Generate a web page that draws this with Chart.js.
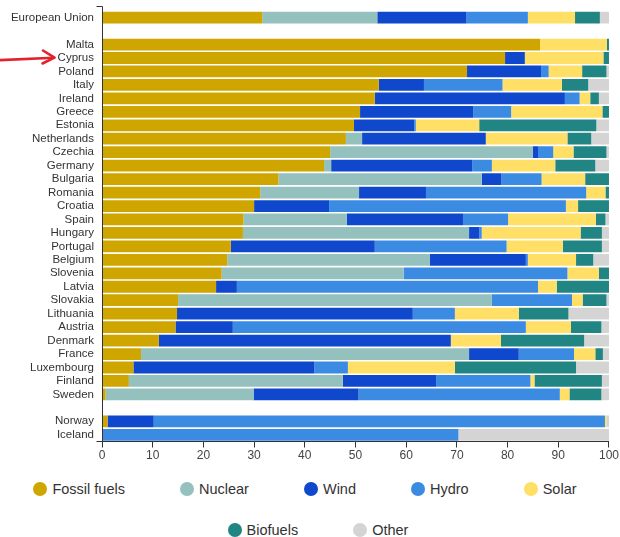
<!DOCTYPE html>
<html>
<head>
<meta charset="utf-8">
<script src="https://cdn.jsdelivr.net/npm/chart.js@4"></script>
<style>
  html, body { margin: 0; padding: 0; background: #fff; }
  #wrap { position: relative; width: 620px; height: 537px; overflow: hidden; font-family: 'Liberation Sans', Arial, sans-serif; }
  #chartBox { position: absolute; left: 0; top: -4px; width: 620px; height: 474px; }
  .legRow { position: absolute; left: 0; width: 620px; display: flex; justify-content: center; gap: 55px; }
  .legItem { display: flex; align-items: center; font-size: 14.5px; color: #333; height: 16px; line-height: 16px; white-space: nowrap; }
  .legDot { width: 14px; height: 14px; border-radius: 50%; margin-right: 5px; flex: none; }
</style>
</head>
<body>
<div id="wrap">
  <div id="chartBox"><canvas id="c"></canvas></div>
  <div class="legRow" id="leg1" style="top:481px; transform: translateX(-5px);"></div>
  <div class="legRow" id="leg2" style="top:522px; transform: translateX(8px);"></div>
</div>
<script>
// ---- Data ----
const categories = ["European Union", "", "Malta", "Cyprus", "Poland", "Italy", "Ireland", "Greece", "Estonia",
  "Netherlands", "Czechia", "Germany", "Bulgaria", "Romania", "Croatia", "Spain", "Hungary", "Portugal",
  "Belgium", "Slovenia", "Latvia", "Slovakia", "Lithuania", "Austria", "Denmark", "France", "Luxembourg",
  "Finland", "Sweden", " ", "Norway", "Iceland"];

const seriesNames = ["Fossil fuels", "Nuclear", "Wind", "Hydro", "Solar", "Biofuels", "Other"];
const seriesColors = ["#CFA500", "#94C1BE", "#0F47CD", "#3B8BE3", "#FFDF65", "#218583", "#D4D4D4"];

const fossil   = [31.6, null, 86.4, 79.5, 72.0, 54.6, 53.8, 50.9, 49.7, 48.1, 45.0, 43.8, 34.8, 31.2, 30.0, 27.9, 27.8, 25.4, 24.7, 23.6, 22.5, 15.0, 14.8, 14.5, 11.2, 7.7, 6.2, 5.3, 0.7, null, 1.1, 0];
const nuclear  = [22.7, null, 0, 0, 0, 0, 0, 0, 0, 3.2, 40.0, 1.4, 40.1, 19.5, 0, 20.4, 44.6, 0, 40.0, 35.9, 0, 61.9, 0, 0, 0, 64.7, 0, 42.2, 29.2, null, 0, 0];
const wind     = [17.6, null, 0, 3.9, 14.6, 8.9, 37.5, 22.3, 11.9, 24.4, 1.0, 27.8, 3.9, 13.2, 14.8, 22.9, 2.0, 28.4, 18.9, 0, 4.1, 0, 46.5, 11.3, 57.6, 9.8, 35.7, 18.4, 20.7, null, 9.1, 0];
const hydro    = [12.1, null, 0, 0, 1.5, 15.5, 2.9, 7.5, 0.3, 0, 3.0, 3.9, 7.9, 31.6, 46.7, 8.9, 0.5, 26.0, 0.4, 32.3, 59.4, 15.8, 8.3, 57.8, 0, 10.9, 6.6, 18.6, 39.7, null, 89.0, 70.3];
const solar    = [9.3, null, 13.2, 15.5, 6.6, 11.7, 2.1, 18.0, 12.5, 16.1, 4.0, 12.5, 8.6, 3.8, 2.4, 17.3, 19.5, 11.1, 9.5, 6.2, 3.7, 2.1, 12.6, 8.9, 9.9, 4.2, 21.1, 0.8, 1.9, null, 0.3, 0];
const biofuels = [4.9, null, 0.4, 1.1, 4.8, 5.2, 1.7, 1.3, 23.1, 4.7, 6.5, 7.9, 4.7, 0.7, 6.1, 1.9, 4.2, 7.7, 3.4, 2.0, 10.3, 4.7, 9.8, 6.0, 16.4, 1.5, 23.9, 13.3, 6.3, null, 0, 0];
const other    = [1.8, null, 0, 0, 0.5, 4.1, 2.0, 0, 2.5, 3.5, 0.5, 2.7, 0, 0, 0, 0.7, 1.4, 1.4, 3.1, 0, 0, 0.5, 8.0, 1.5, 4.9, 1.2, 6.5, 1.4, 1.5, null, 0.5, 29.7];

const xTicks = [0, 10, 20, 30, 40, 50, 60, 70, 80, 90, 100];
const seriesValues = [fossil, nuclear, wind, hydro, solar, biofuels, other];

// ---- Legend (HTML) ----
function addLegend(rowId, idxs) {
  const row = document.getElementById(rowId);
  idxs.forEach(i => {
    const it = document.createElement('div');
    it.className = 'legItem';
    const dot = document.createElement('span');
    dot.className = 'legDot';
    dot.style.background = seriesColors[i];
    const tx = document.createElement('span');
    tx.textContent = seriesNames[i];
    it.appendChild(dot); it.appendChild(tx);
    row.appendChild(it);
  });
}
addLegend('leg1', [0, 1, 2, 3, 4]);
addLegend('leg2', [5, 6]);

// ---- Plugins ----
const axisColor = '#333';
const canvasShift = 4; // canvas is placed 4px above the page top
const yDomainPlugin = {
  id: 'yDomain',
  afterDraw(chart) {
    const ctx = chart.ctx;
    const a = chart.chartArea;
    const x = Math.round(a.left) + 0.5;
    ctx.save();
    ctx.strokeStyle = axisColor;
    ctx.lineWidth = 1;
    ctx.beginPath();
    ctx.moveTo(x - 6, 6.5 + canvasShift);
    ctx.lineTo(x, 6.5 + canvasShift);
    ctx.lineTo(x, a.bottom);
    ctx.lineTo(x - 6, a.bottom);
    ctx.stroke();
    ctx.restore();
  }
};
const arrowPlugin = {
  id: 'arrow',
  afterDraw(chart) {
    const ctx = chart.ctx;
    const yIdx = categories.indexOf('Cyprus');
    const yc = chart.scales.y.getPixelForValue(yIdx);
    ctx.save();
    ctx.strokeStyle = '#E3222B';
    ctx.lineWidth = 2.6;
    ctx.lineCap = 'round';
    ctx.lineJoin = 'round';
    ctx.beginPath();
    ctx.moveTo(-2, yc + 2.2);
    ctx.quadraticCurveTo(30, yc + 0.8, 54, yc - 0.2);
    ctx.stroke();
    ctx.beginPath();
    ctx.moveTo(43, yc - 7.5);
    ctx.lineTo(54.5, yc - 0.3);
    ctx.lineTo(42.5, yc + 5.5);
    ctx.stroke();
    ctx.restore();
  }
};

// ---- Chart ----
Chart.defaults.font.family = "'Liberation Sans', Arial, sans-serif";
new Chart(document.getElementById('c'), {
  type: 'bar',
  data: {
    labels: categories,
    datasets: seriesNames.map((n, i) => ({
      label: n,
      data: seriesValues[i],
      backgroundColor: seriesColors[i],
      borderWidth: 0,
      barPercentage: 0.875,
      categoryPercentage: 1.0
    }))
  },
  options: {
    indexAxis: 'y',
    responsive: true,
    maintainAspectRatio: false,
    animation: false,
    layout: { padding: { top: 7, right: 11, bottom: 0, left: 0 } },
    plugins: { legend: { display: false }, tooltip: { enabled: false } },
    scales: {
      x: {
        stacked: true,
        min: 0, max: 100,
        afterBuildTicks: s => { s.ticks = xTicks.map(v => ({ value: v })); },
        afterFit: s => { s.height = 28.5; },
        grid: { display: true, drawOnChartArea: false, drawTicks: true, tickLength: 6, color: axisColor, lineWidth: 1 },
        border: { display: true, color: axisColor, width: 1 },
        ticks: { color: '#444', font: { size: 12 }, padding: 1, maxRotation: 0, autoSkip: false }
      },
      y: {
        stacked: true,
        afterFit: s => { s.width = 102; },
        grid: { display: false, drawTicks: false },
        border: { display: false },
        ticks: { color: '#333', font: { size: 11.5 }, padding: 8, autoSkip: false }
      }
    }
  },
  plugins: [yDomainPlugin, arrowPlugin]
});
</script>
</body>
</html>
